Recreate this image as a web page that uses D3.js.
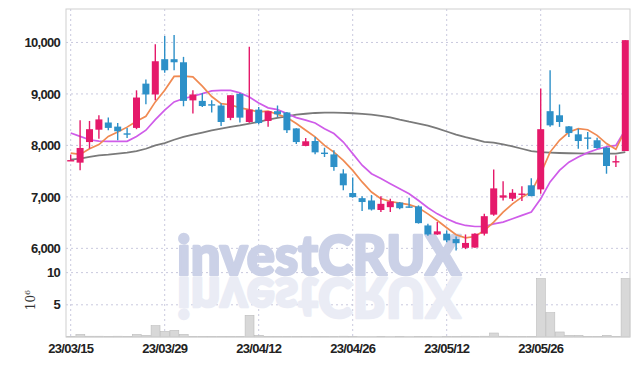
<!DOCTYPE html>
<html><head><meta charset="utf-8">
<script src="https://cdn.jsdelivr.net/npm/d3@7"></script>
<style>body{margin:0;background:#fff}svg{display:block}</style>
</head><body>
<svg id="c" width="639" height="366"></svg>
<script>
const dates = ["23/03/15","23/03/16","23/03/17","23/03/20","23/03/21","23/03/22","23/03/23","23/03/24","23/03/27","23/03/28",
"23/03/29","23/03/30","23/03/31","23/04/03","23/04/04","23/04/05","23/04/06","23/04/07","23/04/10","23/04/11",
"23/04/12","23/04/13","23/04/14","23/04/17","23/04/18","23/04/19","23/04/20","23/04/21","23/04/24","23/04/25",
"23/04/26","23/04/27","23/04/28","23/05/02","23/05/03","23/05/04","23/05/08","23/05/09","23/05/10","23/05/11",
"23/05/12","23/05/15","23/05/16","23/05/17","23/05/18","23/05/19","23/05/22","23/05/23","23/05/24","23/05/25",
"23/05/26","23/05/30","23/05/31","23/06/01","23/06/02","23/06/05","23/06/07","23/06/08","23/06/09","23/06/12"];
const open  = [7705,7665,8065,8305,8445,8365,8235,8340,9200,8990, 9675,9675,9615,8875,8865,8800,8775,8535,9000,8455,
               8695,8475,8665,8640,8330,7990,8085,7860,7825,7455, 7075,6975,6930,6745,6800,6890,6815,6815,6445,6270,
               6285,6180,6010,6015,6285,6655,6985,6965,7055,7225, 7145,8665,8585,8370,8215,8155,8100,7955,7685,7890];
const high  = [7820,8490,8475,8585,8540,8435,8340,9070,9280,9965, 10125,10145,9720,9070,9020,8875,8820,8975,9020,9915,
               8745,8665,8775,8650,8335,8145,8165,7955,7905,7535, 7375,7010,7035,7010,6965,6900,6985,6835,6480,6510,
               6345,6230,6270,6295,6670,7530,7305,7150,7205,7360, 9105,9460,8795,8375,8325,8260,8150,7970,7805,10045];
const low   = [7700,7515,7940,8130,8295,8100,8145,8315,8800,8875, 9410,9460,8760,8620,8745,8640,8375,8490,8445,8440,
               8410,8360,8550,8240,8025,7985,7830,7775,7510,7130, 6985,6725,6735,6705,6705,6760,6790,6480,6245,6265,
               6120,5960,5985,6010,6250,6635,6930,6920,6920,7010, 7060,8360,8360,8165,7935,7925,7935,7450,7580,7890];
const close = [7715,7950,8315,8505,8340,8275,8225,8930,8990,9635, 9460,9615,8865,8990,8765,8785,8455,8975,8540,8695,
               8435,8665,8605,8295,8065,8080,7865,7845,7580,7225, 6995,6900,6755,6865,6910,6780,6805,6490,6270,6330,
               6155,6100,6105,6285,6625,7165,7030,7080,7065,7015, 8315,8390,8455,8240,8085,8145,7950,7600,7695,10045];
const volume = [0.05,0.41,0.12,0.12,0.05,0.12,0.05,0.4,0.26,1.76, 0.88,1.04,0.41,0.1,0.08,0.06,0.08,0.1,0.1,3.37,
               0.26,0.1,0.1,0.1,0.1,0.05,0.06,0.05,0.05,0.12, 0.05,0.04,0.04,0.05,0.04,0.05,0.04,0.05,0.05,0.04,
               0.05,0.05,0.12,0.05,0.12,0.62,0.12,0.05,0.05,0.05, 9.07,3.78,0.78,0.26,0.26,0.1,0.1,0.26,0.1,9.07];
const ma5  = [7850,7825,7935,8015,8175,8260,8355,8470,8565,8845, 9070,9340,9345,9330,9150,8950,8810,8790,8730,8695,
              8650,8665,8605,8540,8425,8295,8165,8000,7870,7710, 7515,7290,7095,6965,6910,6880,6850,6790,6670,6540,
              6400,6265,6205,6230,6345,6510,6705,6865,6995,7095, 7450,7870,8100,8260,8325,8305,8195,8035,7925,8305];
const ma10 = [8240,8175,8110,8085,8080,8080,8080,8175,8295,8500, 8685,8845,8910,8955,9005,9060,9070,9070,9020,8940,
              8825,8730,8695,8620,8540,8490,8435,8325,8230,8065, 7840,7615,7450,7355,7255,7160,7060,6930,6790,6670,
              6575,6495,6445,6425,6425,6475,6510,6575,6640,6705, 6965,7290,7515,7675,7775,7860,7925,7970,8000,8305];
const ma60 = [7725,7745,7775,7805,7820,7840,7860,7890,7935,8000, 8045,8110,8165,8210,8250,8290,8325,8360,8390,8425,
              8455,8500,8535,8565,8600,8615,8630,8638,8638,8632, 8625,8612,8598,8575,8545,8500,8460,8425,8385,8330,
              8270,8210,8160,8115,8070,8055,8020,7980,7935,7890, 7870,7860,7852,7848,7845,7842,7840,7840,7840,7870];
const priceTicks = [6000,7000,8000,9000,10000];
const volTicks = [5,10];
const xTickLabels = ["23/03/15","23/03/29","23/04/12","23/04/26","23/05/12","23/05/26"];

const svg = d3.select("#c");
const L = 66, R = 630, T = 9, MB = 271, VB = 337;
const x = d3.scaleBand().domain(dates).range([L, R]).paddingInner(0).paddingOuter(0);
const xc = d => x(d) + x.bandwidth()/2;
const y = d3.scaleLinear().domain([5560, 10650]).range([MB, T]);
const yv = d3.scaleLinear().domain([0, 10.25]).range([VB, MB]);

const gridColor = "#c9c9de";
const g = svg.append("g");
g.selectAll(".hg").data(priceTicks).join("line")
  .attr("x1", L).attr("x2", R).attr("y1", d => y(d)).attr("y2", d => y(d))
  .attr("stroke", gridColor).attr("stroke-dasharray", "2,3");
g.selectAll(".vg").data(volTicks).join("line")
  .attr("x1", L).attr("x2", R).attr("y1", d => yv(d)).attr("y2", d => yv(d))
  .attr("stroke", gridColor).attr("stroke-dasharray", "2,3");
g.selectAll(".xg").data(xTickLabels).join("line")
  .attr("x1", d => xc(d)).attr("x2", d => xc(d)).attr("y1", T).attr("y2", VB)
  .attr("stroke", gridColor).attr("stroke-dasharray", "2,3");

// watermark with reflection
const wmFont = "Lato, Roboto, Liberation Sans, sans-serif";
const wm = svg.append("g");
wm.append("text").text("investCRUX")
  .attr("x", 177).attr("y", 275)
  .attr("textLength", 284).attr("lengthAdjust", "spacingAndGlyphs")
  .attr("font-family", wmFont).attr("font-weight", 900)
  .attr("font-size", 56).attr("fill", "#cbd1e7")
  .attr("stroke", "#cbd1e7").attr("stroke-width", 2.6).attr("stroke-linejoin", "round");
wm.append("text").text("investCRUX")
  .attr("x", 177).attr("y", -278)
  .attr("transform", "scale(1,-1)")
  .attr("textLength", 284).attr("lengthAdjust", "spacingAndGlyphs")
  .attr("font-family", wmFont).attr("font-weight", 900)
  .attr("font-size", 56).attr("fill", "#eaecf5")
  .attr("stroke", "#eaecf5").attr("stroke-width", 2.6).attr("stroke-linejoin", "round");

// volume bars
svg.append("g").selectAll("rect").data(volume).join("rect")
  .attr("x", (d,i) => x(dates[i]) + 0.5).attr("width", x.bandwidth() - 0.5)
  .attr("y", d => yv(d)).attr("height", d => VB - yv(d))
  .attr("fill", "#d8d8d8").attr("stroke", "#bdbdbd").attr("stroke-width", 0.6);

// MA lines
const line = arr => d3.line().x((d,i) => xc(dates[i])).y(d => y(d))(arr);
svg.append("path").attr("d", line(ma60)).attr("fill","none").attr("stroke","#7a7a7a").attr("stroke-width",1.8);
svg.append("path").attr("d", line(ma10)).attr("fill","none").attr("stroke","#cf5ce9").attr("stroke-width",1.7);
svg.append("path").attr("d", line(ma5)).attr("fill","none").attr("stroke","#f08a52").attr("stroke-width",1.7);

// candles
const up = "#e5196a", down = "#2d90c8";
const cg = svg.append("g");
const bw = 7;
dates.forEach((dt, i) => {
  const col = close[i] >= open[i] ? up : down;
  const cx = xc(dt);
  cg.append("line").attr("x1", cx).attr("x2", cx).attr("y1", y(high[i])).attr("y2", y(low[i]))
    .attr("stroke", col).attr("stroke-width", 1.4);
  const top = y(Math.max(open[i], close[i])), bot = y(Math.min(open[i], close[i]));
  cg.append("rect").attr("x", cx - bw/2).attr("width", bw)
    .attr("y", top).attr("height", Math.max(1.4, bot - top)).attr("fill", col);
});

// border
svg.append("rect").attr("x", L).attr("y", T).attr("width", R - L).attr("height", VB - T)
  .attr("fill", "none").attr("stroke", "#cfcfcf").attr("stroke-width", 1);

// axes
const fontFam = "Liberation Sans, Arial, sans-serif";
const ya = svg.append("g").attr("transform", `translate(${L},0)`)
  .call(d3.axisLeft(y).tickValues(priceTicks).tickFormat(d3.format(",")).tickSize(0).tickPadding(6));
const yva = svg.append("g").attr("transform", `translate(${L},0)`)
  .call(d3.axisLeft(yv).tickValues(volTicks).tickFormat(d3.format("d")).tickSize(0).tickPadding(6));
const xa = svg.append("g").attr("transform", `translate(0,${VB})`)
  .call(d3.axisBottom(x).tickValues(xTickLabels).tickSize(0).tickPadding(7));
[ya, yva, xa].forEach(a => {
  a.select(".domain").remove();
  a.selectAll("text").attr("font-family", fontFam).attr("font-weight", "bold")
    .attr("font-size", 13).attr("letter-spacing", "-0.7px").attr("fill", "#222");
});

svg.append("text").attr("transform", "translate(35,300) rotate(-90)")
  .attr("text-anchor", "middle").attr("font-family", "DejaVu Serif, serif").attr("font-size", 12).attr("fill", "#333")
  .text("10").append("tspan").attr("dy", -5).attr("font-size", 8).text("6");
</script>
</body></html>
